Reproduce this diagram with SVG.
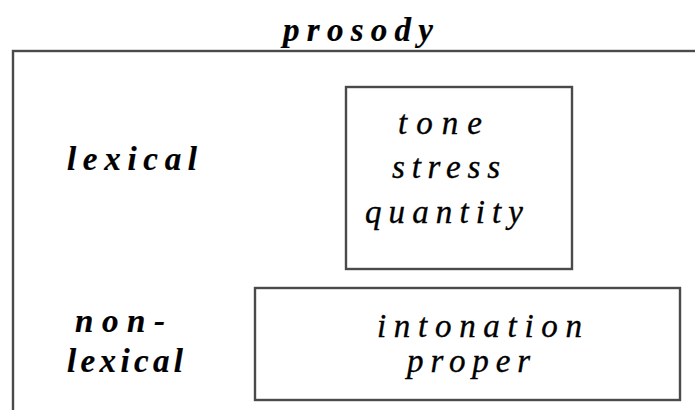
<svg xmlns="http://www.w3.org/2000/svg" width="695" height="410" viewBox="0 0 695 410">
<style>
.box{fill:none;stroke:#4a4a4a;stroke-width:2.4}
.t{font-family:"Liberation Serif","Times New Roman",serif;font-style:italic;font-size:33px;fill:#000;stroke:#000;stroke-width:0.35}
.b{font-weight:bold;stroke-width:0.2}
</style>
<rect width="695" height="410" fill="#fff"/>
<g id="prosody">
<rect class="box" x="13" y="51" width="700" height="400"/>
<text class="t b" x="283" y="41" textLength="150" lengthAdjust="spacing">prosody</text>
</g>
<g id="lexical-label">
<text class="t b" x="67" y="170" textLength="130" lengthAdjust="spacing">lexical</text>
</g>
<g id="nonlexical-label">
<text class="t b" x="75" y="332" textLength="90" lengthAdjust="spacing">non-</text>
<text class="t b" x="67" y="372" textLength="116" lengthAdjust="spacing">lexical</text>
</g>
<g id="lexical-box">
<rect class="box" x="346" y="87" width="226" height="182"/>
<text class="t" x="398" y="134" textLength="84" lengthAdjust="spacing">tone</text>
<text class="t" x="392" y="178" textLength="108" lengthAdjust="spacing">stress</text>
<text class="t" x="365" y="223" textLength="158" lengthAdjust="spacing">quantity</text>
</g>
<g id="nonlexical-box">
<rect class="box" x="255" y="288" width="425" height="112"/>
<text class="t" x="377" y="337" textLength="205" lengthAdjust="spacing">intonation</text>
<text class="t" x="407" y="372" textLength="123" lengthAdjust="spacing">proper</text>
</g>
<g id="connectors"></g>
</svg>
